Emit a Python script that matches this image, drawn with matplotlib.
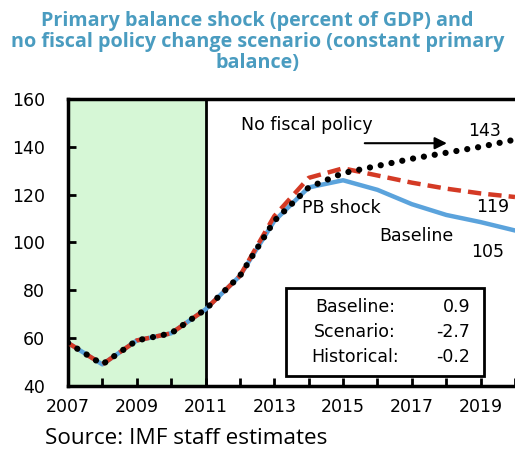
import matplotlib.pyplot as plt

years = list(range(2007, 2021))
baseline = [58, 49, 59, 62, 72, 86, 109, 123, 126, 122, 116, 111.5, 108.5, 105]
pb_shock = [58, 49, 59, 62, 72, 86, 111, 127, 131, 128, 125, 122.5, 120.5, 119]
no_policy = [58, 49, 59, 62, 72, 86, 109, 123, 129, 132, 135, 137.5, 140, 143]
box_labels = ["Baseline:", "Scenario:", "Historical:"]
box_values = ["0.9", "-2.7", "-0.2"]

plt.rcParams['font.family'] = ['DejaVu Sans']

fig = plt.figure(figsize=(5.15, 4.54), dpi=100)
ax = fig.add_axes([0.132, 0.150, 0.868, 0.632])

ax.axvspan(2007, 2011, color='#d6f7d6', zorder=0)
ax.axvline(2011, color='black', lw=2, zorder=1)

ax.plot(years, baseline, color='#5ba3dc', lw=3.2, zorder=2)
ax.plot(years, pb_shock, color='#d43a25', lw=3.2, ls=(0, (3, 1.6)), zorder=3)
ax.plot(years, no_policy, color='black', lw=4.5, ls=(0, (0.01, 1.75)),
        dash_capstyle='round', zorder=4)

ax.set_xlim(2007, 2020)
ax.set_ylim(40, 160)
ax.set_xticks(range(2007, 2021))
ax.set_xticklabels([str(y) if (y - 2007) % 2 == 0 else '' for y in years])
ax.set_yticks(range(40, 161, 20))
ax.tick_params(direction='in', length=6, width=2, labelsize=12.5, pad=9)
ax.tick_params(axis='y', pad=16.5)
for s in ['left', 'bottom', 'top']:
    ax.spines[s].set_linewidth(2.5)
ax.spines['right'].set_visible(False)

fs = 12.5
ax.text(2012.04, 149, "No fiscal policy", fontsize=fs, va='center')
ax.annotate("", xy=(2018.1, 141.5), xytext=(2015.55, 141.5),
            arrowprops=dict(arrowstyle='-|>', color='black', lw=1.5, mutation_scale=18))
ax.text(2018.65, 146.5, "143", fontsize=fs, va='center')
ax.text(2013.82, 114.4, "PB shock", fontsize=fs, va='center')
ax.text(2018.87, 114.8, "119", fontsize=fs, va='center')
ax.text(2016.04, 102.7, "Baseline", fontsize=fs, va='center')
ax.text(2018.72, 96, "105", fontsize=fs, va='center')

ax.add_patch(plt.Rectangle((2013.35, 44), 5.75, 37, fill=False, lw=2,
                           ec='black', zorder=5))
for i, (lab, val) in enumerate(zip(box_labels, box_values)):
    yy = 72.8 - i * 10.3
    ax.text(2015.35, yy, lab, fontsize=fs, ha='center', va='center')
    ax.text(2018.7, yy, val, fontsize=fs, ha='right', va='center')

fig.text(0.50, 0.975, "Primary balance shock (percent of GDP) and\n"
         "no fiscal policy change scenario (constant primary\nbalance)",
         ha='center', va='top', fontsize=14.2, fontweight='bold',
         color='#4a9cc0', linespacing=1.05, family='Open Sans')
fig.text(0.087, 0.022, "Source: IMF staff estimates", fontsize=16.2,
         va='baseline', family='Open Sans')

fig.savefig('out.png', dpi=100)
